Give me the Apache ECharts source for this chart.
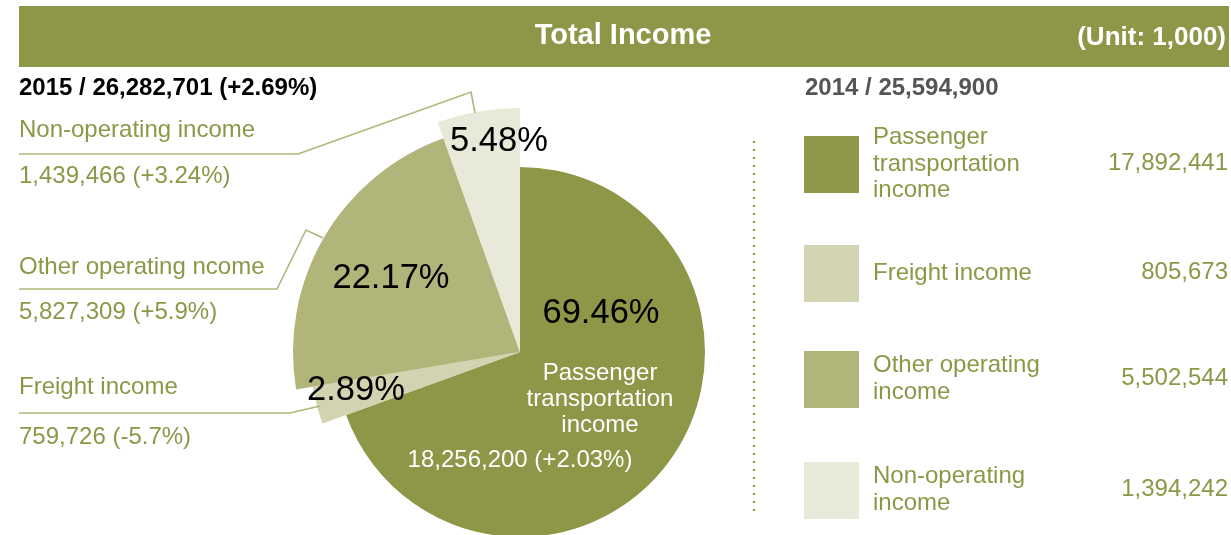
<!DOCTYPE html>
<html>
<head>
<meta charset="utf-8">
<script src="https://cdn.jsdelivr.net/npm/echarts@6/dist/echarts.min.js"></script>
<style>
html,body{margin:0;padding:0;background:#fff;}
#chart{width:1231px;height:535px;}
</style>
</head>
<body>
<div id="chart"></div>
<script>
// ---- data ----
const categories = ['Passenger transportation income', 'Freight income', 'Other operating income', 'Non-operating income'];
const values2015 = [18256200, 759726, 5827309, 1439466];
const growth2015 = ['+2.03%', '-5.7%', '+5.9%', '+3.24%'];
const leftLabels = ['', 'Freight income', 'Other operating ncome', 'Non-operating income'];
const legendNames2014 = ['Passenger\ntransportation\nincome', 'Freight income', 'Other operating\nincome', 'Non-operating\nincome'];
const values2014 = [17892441, 805673, 5502544, 1394242];
const totalGrowth = '+2.69%';
const titleText = 'Total Income';
const unitText = '(Unit: 1,000)';

// ---- styling ----
const colors = ['#8d9747', '#d2d3b0', '#b2b57a', '#e8e9d9'];
const radii = [185, 210, 227, 244];
const olive = '#8d9747';
const lineCol = '#b2b57a';
const FF = '"Liberation Sans", Arial, sans-serif';
const CX = 520, CY = 352;

const fmt = n => n.toLocaleString('en-US');
const total2015 = values2015.reduce((a, b) => a + b, 0);
const total2014 = values2014.reduce((a, b) => a + b, 0);
const pct = values2015.map(v => (v / total2015 * 100).toFixed(2) + '%');

// one pie series per slice so that each slice gets its own radius
const series = categories.map((c, i) => ({
  type: 'pie',
  center: [CX, CY],
  radius: [0, radii[i]],
  startAngle: 90,
  clockwise: true,
  silent: true,
  animation: false,
  label: { show: false },
  labelLine: { show: false },
  itemStyle: { borderWidth: 0 },
  z: 2 + i,
  data: categories.map((n, j) => ({
    name: n,
    value: values2015[j],
    itemStyle: { color: j === i ? colors[i] : 'rgba(0,0,0,0)', borderWidth: 0 }
  }))
}));

function txt(text, x, y, o) {
  return {
    type: 'text', x: x, y: y, z: 100, silent: true,
    style: Object.assign({
      text: text, fill: olive, fontSize: 24, fontFamily: FF,
      align: 'left', verticalAlign: 'middle', textAlign: 'left', textVerticalAlign: 'middle'
    }, o || {})
  };
}
function ctr(o) { return Object.assign({ align: 'center', textAlign: 'center' }, o); }

const g = [];
// header band
g.push({ type: 'rect', shape: { x: 19, y: 6, width: 1210, height: 61 }, style: { fill: olive }, z: 1 });
g.push(txt(titleText, 623, 36, ctr({ fill: '#fff', fontSize: 29, fontWeight: 'bold' })));
g.push(txt(unitText, 1226, 38, { fill: '#fff', fontSize: 26, fontWeight: 'bold', align: 'right', textAlign: 'right' }));
// year headings
g.push(txt('2015 / ' + fmt(total2015) + ' (' + totalGrowth + ')', 19, 88, { fill: '#000', fontSize: 24, fontWeight: 'bold' }));
g.push(txt('2014 / ' + fmt(total2014), 805, 88, { fill: '#555', fontSize: 24, fontWeight: 'bold' }));

// percentage labels on the pie
const pctPos = [[601, 313], [356, 390], [391, 278], [499, 141]];
pct.forEach((p, i) => g.push(txt(p, pctPos[i][0], pctPos[i][1], ctr({ fill: '#000', fontSize: 34.5 }))));
// passenger inner text
g.push(txt('Passenger\ntransportation\nincome', 600, 399, ctr({ fill: '#fff', fontSize: 24, lineHeight: 26 })));
g.push(txt(fmt(values2015[0]) + ' (' + growth2015[0] + ')', 520, 460, ctr({ fill: '#fff', fontSize: 24 })));

// left-side labels with leader lines
const leftY = { 3: [130, 176], 2: [267, 312], 1: [387, 437] };
[3, 2, 1].forEach(i => {
  g.push(txt(leftLabels[i], 19, leftY[i][0], { fontSize: 24 }));
  g.push(txt(fmt(values2015[i]) + ' (' + growth2015[i] + ')', 19, leftY[i][1], { fontSize: 24 }));
});
const leaders = [
  [[19, 154], [298, 154], [471, 92], [475, 113]],
  [[19, 289], [277, 289], [306, 230], [323, 238]],
  [[19, 413], [290, 413], [320, 406]]
];
leaders.forEach(pts => g.push({ type: 'polyline', z: 50, silent: true, shape: { points: pts }, style: { stroke: lineCol, lineWidth: 1.6, fill: null } }));

// dotted divider
g.push({ type: 'line', z: 1, shape: { x1: 754, y1: 141, x2: 754, y2: 517 }, style: { stroke: olive, lineWidth: 2.2, lineDash: [2, 6] } });

// 2014 legend table
const sqY = [136, 245, 351, 462];
const legendColors = [colors[0], colors[1], colors[2], colors[3]];
sqY.forEach((y, i) => {
  g.push({ type: 'rect', z: 5, shape: { x: 804, y: y, width: 55, height: 57 }, style: { fill: legendColors[i] } });
  g.push(txt(legendNames2014[i], 873, y + 28, { fontSize: 24, lineHeight: 26.5 }));
  g.push(txt(fmt(values2014[i]), 1228, y + 27, { fontSize: 24, align: 'right', textAlign: 'right' }));
});

const chart = echarts.init(document.getElementById('chart'), null, { renderer: 'canvas' });
chart.setOption({
  animation: false,
  backgroundColor: '#fff',
  series: series,
  graphic: { elements: g }
});
</script>
</body>
</html>
